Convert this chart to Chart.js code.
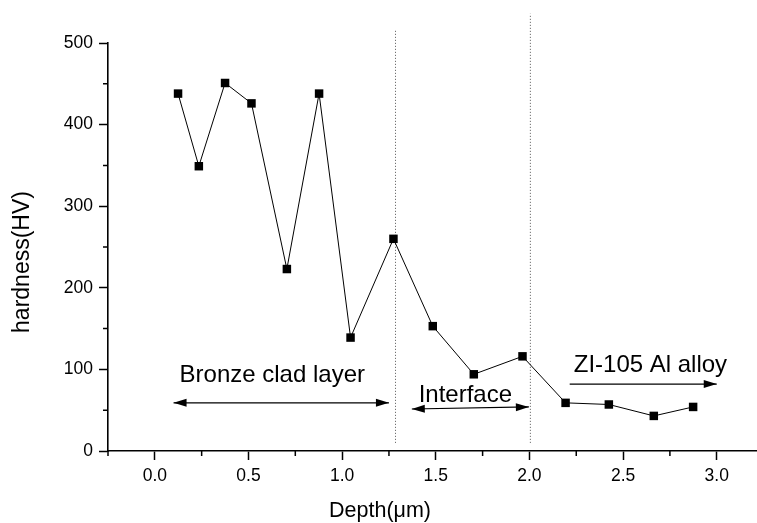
<!DOCTYPE html>
<html>
<head>
<meta charset="utf-8">
<script src="https://cdn.jsdelivr.net/npm/chart.js@4.4.0/dist/chart.umd.min.js"></script>
<style>
  html, body { margin: 0; padding: 0; background: #fff; }
  #hardnessChart { display: block; }
</style>
</head>
<body>
<canvas id="hardnessChart" width="757" height="523"></canvas>
<script>
// measured hardness profile
const depth = [0.124, 0.235, 0.375, 0.516, 0.705, 0.877, 1.045, 1.274, 1.484, 1.703, 1.963, 2.193, 2.424, 2.664, 2.874];
const hardness = [438, 349, 451, 426, 223, 438, 139, 260, 153, 94, 116, 59, 57, 43, 54];

// dotted boundaries between the regions
const boundaryDepths = [1.285, 2.005];
const boundaryTops = [517, 536];
const boundaryBottoms = [10, 10];

// region labels and their arrows (data units)
const regionLabels = ['Bronze clad layer', 'Interface', 'ZI-105 Al alloy'];
const labelDepths = [0.627, 1.658, 2.646];
const labelBaselines = [85, 60.4, 97];
const arrowStartDepths = [0.10, 1.372, 2.215];
const arrowStartValues = [59, 51.5, 82];
const arrowEndDepths = [1.25, 1.997, 3.0];
const arrowEndValues = [59, 54, 82];
const arrowDoubleHeaded = [true, true, false];

const xTitle = 'Depth(\u03bcm)';
const yTitle = 'hardness(HV)';

const FONT = "'Liberation Sans', Arial, sans-serif";

const isMajorX = v => Math.abs(v * 2 - Math.round(v * 2)) < 1e-6;
const isMajorY = v => Math.abs(v / 100 - Math.round(v / 100)) < 1e-6;

function drawArrowHead(ctx, x0, y0, x1, y1) {
  const ang = Math.atan2(y1 - y0, x1 - x0);
  const len = 13, half = 4;
  ctx.beginPath();
  ctx.moveTo(x1, y1);
  ctx.lineTo(x1 - len * Math.cos(ang) + half * Math.sin(ang), y1 - len * Math.sin(ang) - half * Math.cos(ang));
  ctx.lineTo(x1 - len * Math.cos(ang) - half * Math.sin(ang), y1 - len * Math.sin(ang) + half * Math.cos(ang));
  ctx.closePath();
  ctx.fill();
}

const decorations = {
  id: 'decorations',
  afterDatasetsDraw(chart) {
    const { ctx, scales: { x, y } } = chart;
    ctx.save();
    ctx.strokeStyle = '#000';
    ctx.fillStyle = '#000';
    ctx.lineWidth = 1.2;

    // arrows
    arrowStartDepths.forEach((d, i) => {
      const x0 = x.getPixelForValue(d), y0 = y.getPixelForValue(arrowStartValues[i]);
      const x1 = x.getPixelForValue(arrowEndDepths[i]), y1 = y.getPixelForValue(arrowEndValues[i]);
      ctx.beginPath();
      ctx.moveTo(x0, y0);
      ctx.lineTo(x1, y1);
      ctx.stroke();
      drawArrowHead(ctx, x0, y0, x1, y1);
      if (arrowDoubleHeaded[i]) drawArrowHead(ctx, x1, y1, x0, y0);
    });

    // region labels
    ctx.font = '24px ' + FONT;
    ctx.textAlign = 'center';
    ctx.textBaseline = 'alphabetic';
    regionLabels.forEach((t, i) => {
      ctx.fillText(t, x.getPixelForValue(labelDepths[i]), y.getPixelForValue(labelBaselines[i]));
    });
    ctx.restore();
  },
  afterDraw(chart) {
    const { ctx, scales: { x, y } } = chart;
    ctx.save();
    ctx.strokeStyle = '#000';
    ctx.lineWidth = 1.5;

    // minor ticks are shorter than the major ones
    ctx.beginPath();
    x.ticks.forEach(t => {
      if (isMajorX(t.value)) return;
      const px = x.getPixelForValue(t.value);
      ctx.moveTo(px, y.bottom);
      ctx.lineTo(px, y.bottom + 5);
    });
    y.ticks.forEach(t => {
      if (isMajorY(t.value)) return;
      const py = y.getPixelForValue(t.value);
      ctx.moveTo(x.left, py);
      ctx.lineTo(x.left - 5, py);
    });
    ctx.stroke();

    // axis titles
    ctx.fillStyle = '#000';
    ctx.font = '21.5px ' + FONT;
    ctx.textAlign = 'center';
    ctx.textBaseline = 'alphabetic';
    ctx.fillText(xTitle, 380, 517);
    ctx.font = '23px ' + FONT;
    ctx.translate(23, 262);
    ctx.rotate(-Math.PI / 2);
    ctx.textBaseline = 'middle';
    ctx.fillText(yTitle, 0, 0);
    ctx.restore();
  }
};

const boundaryDatasets = boundaryDepths.map((d, i) => ({
  data: [{ x: d, y: boundaryBottoms[i] }, { x: d, y: boundaryTops[i] }],
  borderColor: '#555',
  borderWidth: 1,
  borderDash: [1, 2],
  pointRadius: 0,
  clip: false
}));

new Chart(document.getElementById('hardnessChart'), {
  type: 'line',
  data: {
    datasets: [
      {
        data: depth.map((d, i) => ({ x: d, y: hardness[i] })),
        borderColor: '#000',
        backgroundColor: '#000',
        borderWidth: 1,
        pointStyle: 'rect',
        pointRadius: 6,
        pointBorderWidth: 0,
        tension: 0
      },
      ...boundaryDatasets
    ]
  },
  options: {
    responsive: false,
    animation: false,
    layout: { autoPadding: false, padding: { top: 43, right: 0, bottom: 0, left: 0 } },
    plugins: { legend: { display: false }, tooltip: { enabled: false } },
    scales: {
      x: {
        type: 'linear',
        min: -0.25,
        max: 3.215,
        afterFit(scale) {
          scale.height = 72;
          scale.paddingLeft = 0;
          scale.paddingRight = 0;
        },
        border: { display: true, color: '#000', width: 1.6 },
        grid: {
          drawOnChartArea: false,
          tickLength: 9,
          tickWidth: 1.5,
          tickColor: c => (c.tick && isMajorX(c.tick.value)) ? '#000' : 'rgba(0,0,0,0)'
        },
        ticks: {
          stepSize: 0.25,
          includeBounds: false,
          autoSkip: false,
          maxRotation: 0,
          padding: 6,
          color: '#000',
          font: { family: FONT, size: 17.5 },
          callback: v => (isMajorX(v) && v >= 0) ? v.toFixed(1) : ''
        }
      },
      y: {
        type: 'linear',
        min: 0,
        max: 500,
        afterFit(scale) {
          scale.width = 108;
          scale.paddingTop = 0;
          scale.paddingBottom = 0;
        },
        border: { display: true, color: '#000', width: 1.6 },
        grid: {
          drawOnChartArea: false,
          tickLength: 9,
          tickWidth: 1.5,
          tickColor: c => (c.tick && isMajorY(c.tick.value)) ? '#000' : 'rgba(0,0,0,0)'
        },
        ticks: {
          stepSize: 50,
          padding: 6,
          color: '#000',
          font: { family: FONT, size: 17.5 },
          callback: v => isMajorY(v) ? String(v) : ''
        }
      }
    }
  },
  plugins: [decorations]
});
</script>
</body>
</html>
